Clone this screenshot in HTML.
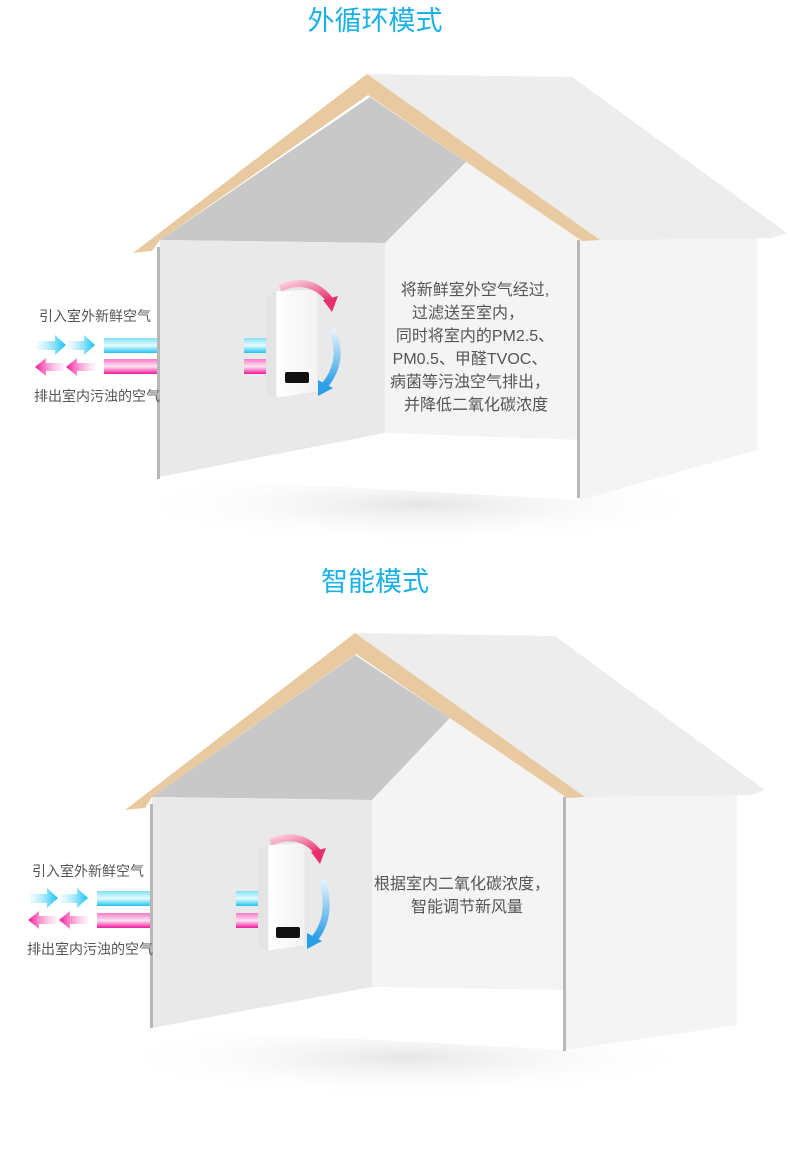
<!DOCTYPE html>
<html><head><meta charset="utf-8"><style>
html,body{margin:0;padding:0;background:#fff;}
svg{display:block;}
text{font-family:"Liberation Sans","Noto Sans CJK SC",sans-serif;}
</style></head><body>
<svg width="790" height="1164" viewBox="0 0 790 1164" xmlns="http://www.w3.org/2000/svg">
<defs>
<linearGradient id="cy" x1="0" y1="0" x2="0" y2="1"><stop offset="0" stop-color="#7fe0f8"/><stop offset="0.5" stop-color="#e8fbff"/><stop offset="1" stop-color="#1ec4f0"/></linearGradient>
<linearGradient id="pk" x1="0" y1="0" x2="0" y2="1"><stop offset="0" stop-color="#f77ac8"/><stop offset="0.5" stop-color="#ffe4f4"/><stop offset="1" stop-color="#f0189a"/></linearGradient>
<linearGradient id="cya" x1="0" y1="0" x2="1" y2="0"><stop offset="0" stop-color="#c8f3ff" stop-opacity="0.3"/><stop offset="1" stop-color="#10c0f0"/></linearGradient>
<linearGradient id="pka" x1="1" y1="0" x2="0" y2="0"><stop offset="0" stop-color="#ffd0ea" stop-opacity="0.3"/><stop offset="1" stop-color="#f0189a"/></linearGradient>
<linearGradient id="arcp" x1="0" y1="0" x2="1" y2="1"><stop offset="0" stop-color="#fbd0dc"/><stop offset="1" stop-color="#e8306e"/></linearGradient>
<linearGradient id="arcb" x1="0" y1="0" x2="0" y2="1"><stop offset="0" stop-color="#e6f4fc"/><stop offset="1" stop-color="#2a9ee6"/></linearGradient>
<radialGradient id="sh" cx="0.5" cy="0.5" r="0.5"><stop offset="0" stop-color="#e6e6e6"/><stop offset="1" stop-color="#fff" stop-opacity="0"/></radialGradient>
<linearGradient id="dev" x1="0" y1="0" x2="1" y2="0"><stop offset="0" stop-color="#fff"/><stop offset="1" stop-color="#f2f2f2"/></linearGradient>
</defs>

<text x="375" y="30" font-size="27" fill="#1ab0e8" text-anchor="middle">外循环模式</text>
<text x="375" y="591" font-size="27" fill="#1ab0e8" text-anchor="middle">智能模式</text>

<!-- HOUSE 1 -->
<ellipse cx="420" cy="505" rx="300" ry="40" fill="url(#sh)"/>
<polygon points="580,240 757,237 757,450 580,500" fill="#f4f4f4"/>
<polygon points="367,74 572,77 787,233 772,238 600,240" fill="#ededed"/>
<polygon points="160,240 370,97 466,162 385,243" fill="#c8c8c8"/>
<polygon points="385,243 466,162 580,240 580,440 385,433" fill="#f4f4f4"/>
<polygon points="160,240 385,243 385,433 160,477" fill="#e9e9e9"/>
<polygon points="160,477 385,433 580,440 580,500" fill="#fff"/>
<polygon points="133,253 367,74 600,240 582,241 368,95 160,240 152,251" fill="#e8c9a0"/>
<rect x="157" y="247" width="3" height="232" fill="#b8b8b8"/>
<rect x="577" y="240" width="3" height="258" fill="#b8b8b8"/>

<text font-size="14" fill="#555"><tspan x="39" y="321">引入室外新鲜空气</tspan><tspan x="34" y="401">排出室内污浊的空气</tspan></text>
<g>
<polygon points="37,341 55,341 55,335 66,345 55,355 55,350 37,350" fill="url(#cya)"/>
<polygon points="68,341 84,341 84,335 95,345 84,355 84,350 68,350" fill="url(#cya)"/>
<polygon points="95,363 77,363 77,358 66,367 77,376 77,371 95,371" fill="url(#pka)"/>
<polygon points="64,363 46,363 46,358 35,367 46,376 46,371 64,371" fill="url(#pka)"/>
<rect x="104" y="338" width="53" height="15" fill="url(#cy)"/>
<rect x="104" y="359" width="53" height="15" fill="url(#pk)"/>
<rect x="244" y="338" width="24" height="15" fill="url(#cy)"/>
<rect x="244" y="359" width="24" height="15" fill="url(#pk)"/>
</g>
<g>
<polygon points="266,297 276,291 276,398 266,393" fill="#e4e4e4"/>
<polygon points="276,291 318,289 318,392 276,398" fill="url(#dev)" stroke="#e0e0e0" stroke-width="0.5"/>
<rect x="285" y="372" width="24" height="11" rx="2" fill="#111"/>
<path d="M280,288 Q310,275 330,300" stroke="url(#arcp)" stroke-width="7" fill="none"/>
<polygon points="323,300 338,296 332,312" fill="#e8306e"/>
<path d="M332,330 Q345,360 325,385" stroke="url(#arcb)" stroke-width="7" fill="none"/>
<polygon points="318,380 333,388 318,396" fill="#2a9ee6"/>
</g>
<text font-size="16" fill="#555" text-anchor="middle"><tspan x="475" y="295">将新鲜室外空气经过,</tspan><tspan x="468" y="318">过滤送至室内，</tspan><tspan x="475" y="341">同时将室内的PM2.5、</tspan><tspan x="470" y="364">PM0.5、甲醛TVOC、</tspan><tspan x="470" y="387">病菌等污浊空气排出，</tspan><tspan x="476" y="410">并降低二氧化碳浓度</tspan></text>

<!-- HOUSE 2 -->
<ellipse cx="405" cy="1058" rx="300" ry="40" fill="url(#sh)"/>
<polygon points="565,795 737,793 737,1025 565,1050" fill="#f4f4f4"/>
<polygon points="355,633 555,636 765,790 752,795 585,797" fill="#ededed"/>
<polygon points="152,797 355,655 450,718 372,800" fill="#c8c8c8"/>
<polygon points="372,800 450,718 565,797 565,990 372,987" fill="#f4f4f4"/>
<polygon points="152,797 372,800 372,987 152,1028" fill="#e9e9e9"/>
<polygon points="152,1028 372,987 565,990 565,1050" fill="#fff"/>
<polygon points="125,810 355,633 585,797 567,798 356,654 152,797 145,808" fill="#e8c9a0"/>
<rect x="150" y="804" width="3" height="224" fill="#b8b8b8"/>
<rect x="563" y="797" width="3" height="254" fill="#b8b8b8"/>

<text font-size="14" fill="#555"><tspan x="32" y="876">引入室外新鲜空气</tspan><tspan x="27" y="954">排出室内污浊的空气</tspan></text>
<g>
<polygon points="30,894 47,894 47,888 58,898 47,908 47,903 30,903" fill="url(#cya)"/>
<polygon points="61,894 77,894 77,888 88,898 77,908 77,903 61,903" fill="url(#cya)"/>
<polygon points="88,916 70,916 70,911 59,920 70,929 70,924 88,924" fill="url(#pka)"/>
<polygon points="57,916 39,916 39,911 28,920 39,929 39,924 57,924" fill="url(#pka)"/>
<rect x="97" y="891" width="53" height="15" fill="url(#cy)"/>
<rect x="97" y="913" width="53" height="15" fill="url(#pk)"/>
<rect x="236" y="891" width="24" height="15" fill="url(#cy)"/>
<rect x="236" y="913" width="24" height="15" fill="url(#pk)"/>
</g>
<g>
<polygon points="258,851 268,845 268,951 258,946" fill="#e4e4e4"/>
<polygon points="268,845 305,843 305,946 268,951" fill="url(#dev)" stroke="#e0e0e0" stroke-width="0.5"/>
<rect x="276" y="927" width="24" height="11" rx="2" fill="#111"/>
<path d="M270,842 Q300,830 318,852" stroke="url(#arcp)" stroke-width="7" fill="none"/>
<polygon points="311,852 326,848 320,864" fill="#e8306e"/>
<path d="M322,880 Q333,915 315,938" stroke="url(#arcb)" stroke-width="7" fill="none"/>
<polygon points="307,933 322,941 307,949" fill="#2a9ee6"/>
</g>
<text font-size="16" fill="#555" text-anchor="middle"><tspan x="462" y="889">根据室内二氧化碳浓度，</tspan><tspan x="467" y="912">智能调节新风量</tspan></text>
</svg>
</body></html>
